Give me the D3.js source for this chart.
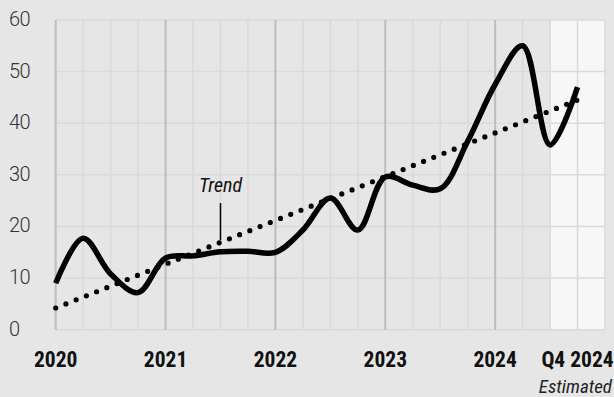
<!DOCTYPE html>
<html>
<head>
<meta charset="utf-8">
<script src="https://cdn.jsdelivr.net/npm/d3@7"></script>
<style>
  html, body { margin: 0; padding: 0; background: #e6e6e6; }
  svg { display: block; }
</style>
</head>
<body>
<svg id="chart" width="614" height="397"></svg>
<script>
// ---- data ----
const quarters = ["2020 Q1","2020 Q2","2020 Q3","2020 Q4","2021 Q1","2021 Q2","2021 Q3","2021 Q4",
                  "2022 Q1","2022 Q2","2022 Q3","2022 Q4","2023 Q1","2023 Q2","2023 Q3","2023 Q4",
                  "2024 Q1","2024 Q2","2024 Q3","2024 Q4"];
const values = [9, 17.7, 10.8, 7.2, 13.9, 14.3, 15.1, 15.2, 15, 19.3, 25.5, 19.3, 29.6, 28, 27.3, 36.5, 47.5, 55, 35.8, 47];
const trendEnds = [4.2, 44.5];           // trend value at first and last quarter
const yTicks = [0, 10, 20, 30, 40, 50, 60];
const xLabelIndex = [0, 4, 8, 12, 16, 19];
const xLabels = ["2020", "2021", "2022", "2023", "2024", "Q4 2024"];
const estimatedFrom = 18;                // shaded "estimated" band starts at this quarter index
const trendLabel = "Trend";
const trendLabelIndex = 6;
const estimatedLabel = "Estimated";

// ---- layout ----
const svg = d3.select("#chart");
const W = 614, H = 397;
const x = d3.scaleLinear().domain([0, quarters.length]).range([55.7, 605]);
const y = d3.scaleLinear().domain([0, 60]).range([329.7, 20]);
const cond = "'Liberation Sans Narrow', 'Roboto Condensed', Roboto, sans-serif";

svg.append("rect").attr("width", W).attr("height", H).attr("fill", "#e6e6e6");

// estimated band
svg.append("rect")
  .attr("x", x(estimatedFrom)).attr("y", y(60))
  .attr("width", x(quarters.length) - x(estimatedFrom))
  .attr("height", y(0) - y(60))
  .attr("fill", "#f7f7f7");

// horizontal gridlines
svg.append("g").selectAll("line").data(yTicks).join("line")
  .attr("x1", x(0)).attr("x2", x(quarters.length))
  .attr("y1", d => y(d)).attr("y2", d => y(d))
  .attr("stroke", "#dadada").attr("stroke-width", 1.5);

// vertical gridlines (quarters)
const vIdx = d3.range(0, quarters.length + 1);
svg.append("g").selectAll("line").data(vIdx).join("line")
  .attr("x1", d => x(d)).attr("x2", d => x(d))
  .attr("y1", y(0)).attr("y2", y(60))
  .attr("stroke", d => (d % 4 === 0 && d < quarters.length) ? "#bdbdbd" : "#dadada")
  .attr("stroke-width", d => (d % 4 === 0 && d < quarters.length) ? 2 : 1.5);

// y axis labels
const yAxis = d3.axisLeft(y).tickValues(yTicks).tickSize(0).tickFormat(d3.format("d"));
const gy = svg.append("g").call(yAxis);
gy.select(".domain").remove();
gy.selectAll("text")
  .attr("x", 9).attr("dy", null).attr("y", 5.5)
  .attr("text-anchor", "start")
  .attr("font-family", "Roboto, sans-serif")
  .attr("font-weight", 300)
  .attr("font-size", 20)
  .attr("letter-spacing", -0.6)
  .attr("fill", "#333");

// x axis labels
const gx = svg.append("g");
gx.selectAll("text").data(xLabelIndex).join("text")
  .attr("x", d => x(d)).attr("y", 367.3)
  .attr("text-anchor", "middle")
  .attr("font-family", cond)
  .attr("font-weight", 700)
  .attr("font-size", 21.5)
  .attr("fill", "#111")
  .text((d, i) => xLabels[i]);

svg.append("text")
  .attr("x", 612).attr("y", 392.5)
  .attr("text-anchor", "end")
  .attr("font-family", cond)
  .attr("font-style", "italic")
  .attr("font-size", 19)
  .attr("fill", "#222")
  .text(estimatedLabel);

// trend line (dotted)
const trendFn = i => trendEnds[0] + (trendEnds[1] - trendEnds[0]) * i / (quarters.length - 1);
svg.append("line")
  .attr("x1", x(0)).attr("y1", y(trendEnds[0]))
  .attr("x2", x(quarters.length - 1)).attr("y2", y(trendEnds[1]))
  .attr("stroke", "#000").attr("stroke-width", 5.2)
  .attr("stroke-linecap", "round")
  .attr("stroke-dasharray", "0 11");

// trend annotation
const tx = x(trendLabelIndex);
svg.append("line")
  .attr("x1", tx).attr("x2", tx)
  .attr("y1", 203).attr("y2", y(trendFn(trendLabelIndex)) - 2)
  .attr("stroke", "#000").attr("stroke-width", 1.5);
svg.append("text")
  .attr("x", tx).attr("y", 191.7)
  .attr("text-anchor", "middle")
  .attr("font-family", cond)
  .attr("font-style", "italic")
  .attr("font-size", 20)
  .attr("fill", "#111")
  .text(trendLabel);

// main series
const line = d3.line()
  .x((d, i) => x(i)).y(d => y(d))
  .curve(d3.curveCatmullRom.alpha(0.5));
svg.append("path")
  .datum(values)
  .attr("d", line)
  .attr("fill", "none")
  .attr("stroke", "#000")
  .attr("stroke-width", 5.5)
  .attr("stroke-linejoin", "round")
  .attr("stroke-linecap", "butt");
</script>
</body>
</html>
